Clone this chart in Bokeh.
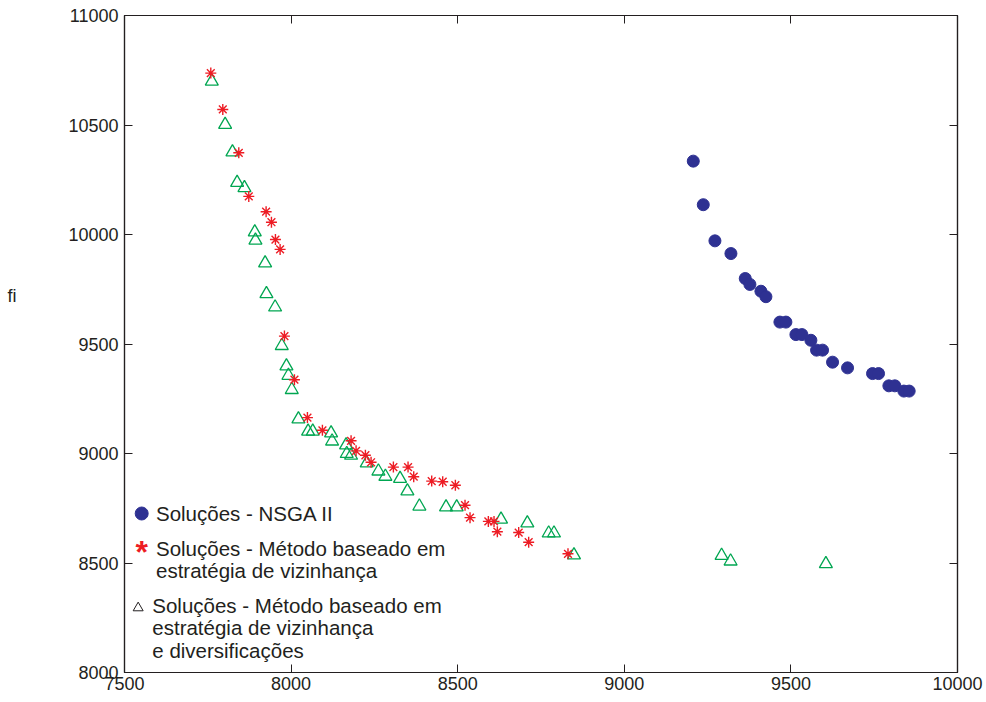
from bokeh.plotting import figure
from bokeh.models import LinearAxis, FixedTicker, Range1d, Label
from bokeh.embed import file_html
from bokeh.resources import INLINE

# ---- data ----
x_ticks = [7500, 8000, 8500, 9000, 9500, 10000]
y_ticks = [8000, 8500, 9000, 9500, 10000, 10500, 11000]

nsga_x = [9207, 9237, 9272, 9320, 9363, 9377, 9410, 9425, 9467, 9485, 9515, 9533,
          9560, 9577, 9595, 9625, 9670, 9745, 9763, 9794, 9812, 9839, 9855]
nsga_y = [10335, 10136, 9971, 9913, 9799, 9772, 9741, 9716, 9600, 9600, 9543, 9543,
          9517, 9472, 9472, 9417, 9391, 9365, 9365, 9309, 9309, 9285, 9285]

viz_x = [7759, 7795, 7843, 7873, 7925, 7941, 7953, 7967, 7980, 8010, 8049, 8094,
         8180, 8195, 8223, 8240, 8307, 8351, 8368, 8422, 8455, 8493, 8522, 8537,
         8592, 8609, 8619, 8683, 8713, 8831]
viz_y = [10737, 10571, 10373, 10174, 10104, 10056, 9977, 9932, 9536, 9337, 9164, 9106,
         9058, 9012, 8992, 8960, 8938, 8938, 8894, 8874, 8871, 8855, 8764, 8707,
         8690, 8690, 8643, 8639, 8595, 8542]

div_x = [7762, 7802, 7824, 7838, 7860, 7891, 7893, 7922, 7926, 7952, 7972, 7986,
         7992, 8002, 8022, 8051, 8065, 8120, 8123, 8165, 8167, 8180, 8227, 8262,
         8283, 8327, 8349, 8385, 8465, 8497, 8630, 8709, 8773, 8789, 8849, 9292,
         9319, 9605]
div_y = [10699, 10502, 10376, 10237, 10213, 10011, 9973, 9869, 9729, 9668, 9492, 9399,
         9356, 9291, 9157, 9101, 9101, 9093, 9056, 9038, 8999, 8991, 8956, 8919,
         8895, 8885, 8828, 8759, 8755, 8755, 8699, 8682, 8636, 8636, 8536, 8534,
         8508, 8496]

y_label = "fi"
legend_nsga = ["Soluções - NSGA II"]
legend_viz = ["Soluções - Método baseado em", "estratégia de vizinhança"]
legend_div = ["Soluções - Método baseado em", "estratégia de vizinhança", "e diversificações"]

# ---- styles ----
FONT = "Liberation Sans"
TXT = "#231F20"
NAVY = "#2E3192"
RED = "#ED1C24"
GREEN = "#00A651"

p = figure(width=986, height=702, output_backend="svg", toolbar_location=None,
           x_range=Range1d(7500, 10000), y_range=Range1d(8000, 11000),
           x_axis_location=None, y_axis_location=None,
           min_border_left=124, min_border_right=29, min_border_top=15,
           min_border_bottom=30)
p.background_fill_color = "white"
p.border_fill_color = "white"
p.outline_line_color = TXT
p.outline_line_width = 1.2
p.xgrid.visible = False
p.ygrid.visible = False


def style_axis(ax, labels=True, standoff=6):
    ax.axis_line_color = TXT
    ax.axis_line_width = 1.2
    ax.major_tick_line_color = TXT
    ax.major_tick_in = 8
    ax.major_tick_out = 0
    ax.minor_tick_line_color = None
    ax.major_label_text_font = FONT
    ax.major_label_text_font_size = "18px"
    ax.major_label_text_color = TXT
    ax.major_label_standoff = standoff
    if not labels:
        ax.major_label_text_font_size = "0px"
        ax.major_label_text_color = None


bottom = LinearAxis(ticker=FixedTicker(ticks=x_ticks))
style_axis(bottom, standoff=4)
p.add_layout(bottom, "below")
left = LinearAxis(ticker=FixedTicker(ticks=y_ticks))
style_axis(left, standoff=6)
p.add_layout(left, "left")
right = LinearAxis(ticker=FixedTicker(ticks=y_ticks))
style_axis(right, labels=False)
p.add_layout(right, "right")
top = LinearAxis(ticker=FixedTicker(ticks=x_ticks))
style_axis(top, labels=False)
p.add_layout(top, "above")

# horizontal "fi" label, drawn as the single label of an outer, line-less left axis
FI_POS = 9717
fi_axis = LinearAxis(ticker=FixedTicker(ticks=[FI_POS]),
                     major_label_overrides={FI_POS: y_label})
style_axis(fi_axis, standoff=49)
fi_axis.axis_line_color = None
fi_axis.major_tick_line_color = None
p.add_layout(fi_axis, "left")

# ---- data marks ----
p.scatter(nsga_x, nsga_y, marker="circle", size=12, fill_color=NAVY, line_color=NAVY)
p.scatter(div_x, div_y, marker="triangle", size=13, fill_color=None,
          line_color=GREEN, line_width=1.3)
p.scatter(viz_x, viz_y, marker="asterisk", size=11, line_color=RED, line_width=1.4)

# ---- legend (drawn manually, matching the MATLAB style) ----
p.scatter([7551.6], [8726], marker="circle", size=13, fill_color=NAVY, line_color=NAVY)
p.scatter([7541], [8295], marker="triangle", size=10, fill_color=None,
          line_color=TXT, line_width=1)

def lab(x, y, text, size="20.5px", color=TXT, bold=False, align="left"):
    p.add_layout(Label(x=x, y=y, text=text, text_font=FONT, text_font_size=size,
                       text_color=color, text_baseline="alphabetic", text_align=align,
                       text_font_style="bold" if bold else "normal"))

lab(7594.5, 8725, legend_nsga[0])
lab(7552, 8552, "*", size="32px", color=RED, bold=True, align="center")
lab(7594.5, 8566, legend_viz[0])
lab(7594.5, 8465, legend_viz[1])
lab(7583.4, 8305, legend_div[0])
lab(7583.4, 8206, legend_div[1])
lab(7583.4, 8100, legend_div[2])

open("out.html", "w").write(file_html(p, INLINE))
